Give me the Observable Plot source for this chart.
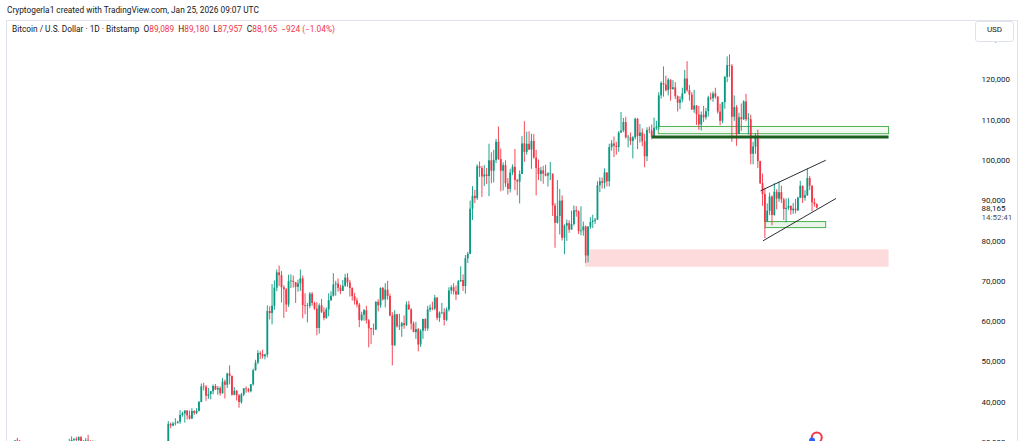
<!DOCTYPE html>
<html><head><meta charset="utf-8">
<script src="https://cdn.jsdelivr.net/npm/d3@7"></script>
<script src="https://cdn.jsdelivr.net/npm/@observablehq/plot@0.6"></script>
<style>
html,body{margin:0;padding:0;background:#fff;width:1024px;height:441px;overflow:hidden;font-family:Roboto,"Liberation Sans",sans-serif;}
#header{height:20px;line-height:21px;font-size:8.3px;color:#131722;padding-left:7px;white-space:nowrap;}
#wrap{position:relative;width:1024px;height:421px;}
#frame{position:absolute;left:6px;top:0;width:1010px;height:430px;border:1px solid #e0e3eb;border-bottom:none;pointer-events:none;}
#legend{position:absolute;left:12px;top:4px;font-size:8.3px;line-height:10px;color:#131722;white-space:nowrap;}
#legend .r{color:#f23645;}
#usd{position:absolute;left:975px;top:1px;width:37px;height:19px;border:1px solid #e0e3eb;border-radius:3px;background:#fff;font-size:8px;line-height:16px;text-align:center;color:#131722;}
svg{display:block;}
</style></head>
<body>
<div id="header">Cryptogerla1 created with TradingView.com, Jan 25, 2026 09:07 UTC</div>
<div id="wrap">
  <div id="chart"></div>
  <div id="frame"></div>
  <div id="legend"></div>
  <div id="usd">USD</div>
</div>
<script>
// ---- Data: BTC/USD, 3-day candles starting 2023-03-24 (prices in thousands USD) ----
const firstOpen = 27.5;
const closes = [
27.9,28.4,28.5,28.2,27.9,29.7,30.4,30.3,28.8,27.8,
28.3,29.3,28.1,28.8,28.4,27.6,26.8,27.0,26.9,26.9,
26.5,28.1,27.2,27.1,27.2,26.5,25.9,25.6,26.3,30.0,
30.5,30.7,30.5,31.2,29.9,30.2,30.4,30.3,29.9,29.9,
29.2,29.2,29.3,29.2,29.0,29.8,29.4,29.4,26.6,26.1,
26.4,26.0,27.7,25.9,25.8,26.2,25.8,26.2,26.5,27.2,
26.6,26.3,27.0,28.0,27.8,27.9,27.4,26.9,28.5,28.7,
30.0,34.5,34.1,34.6,34.7,35.0,36.7,37.1,37.8,36.6,
35.8,37.7,37.2,37.7,39.9,43.8,43.7,41.5,41.9,42.6,
43.9,43.0,43.4,42.1,45.0,44.2,47.0,46.4,41.7,42.7,
41.6,39.9,41.8,43.3,43.1,42.6,44.3,47.8,49.7,52.1,
51.8,51.3,51.7,62.5,62.0,63.8,68.3,72.1,71.4,68.4,
67.9,64.1,69.9,70.0,69.7,68.5,69.4,70.6,64.0,63.8,
63.8,66.8,64.5,63.1,58.3,63.9,62.3,60.8,62.9,65.2,
66.3,69.1,69.3,68.3,67.5,68.8,70.8,69.6,68.2,66.2,
65.1,64.1,60.3,61.6,62.7,60.2,58.2,58.0,57.9,64.8,
63.9,68.2,65.4,67.8,66.2,61.4,54.0,61.7,58.7,58.7,
59.5,59.0,64.1,62.9,59.4,57.3,58.0,54.2,57.6,60.5,
58.2,62.9,63.3,63.1,65.8,60.8,62.1,62.2,60.3,62.9,
67.6,68.4,67.4,66.6,69.9,70.2,68.7,75.6,76.7,87.9,
91.1,90.5,98.4,98.0,95.9,96.4,96.0,99.9,97.3,100.0,
104.5,100.2,97.3,98.7,94.2,92.8,96.9,98.3,95.0,94.6,
96.5,104.1,102.0,104.0,102.6,104.7,100.6,98.0,96.5,97.4,
96.6,96.1,96.6,96.6,88.7,84.4,86.1,89.9,80.7,83.7,
84.3,82.7,84.1,87.5,87.2,82.3,82.5,83.5,76.3,83.4,
84.6,84.9,85.2,93.7,94.7,94.3,96.9,94.7,103.2,104.1,
103.5,103.2,106.8,107.3,109.4,105.6,105.6,104.7,105.6,110.2,
105.9,106.8,104.6,100.9,107.4,107.3,105.7,108.0,108.3,116.0,
119.1,118.7,117.3,119.9,117.6,118.0,115.8,114.2,115.0,116.5,
120.2,117.3,116.2,112.5,113.5,111.3,108.8,111.2,110.6,112.1,
115.5,115.3,116.5,115.7,112.0,109.7,114.3,120.6,123.5,123.3,
110.7,113.1,106.4,110.6,110.1,114.5,110.1,110.1,101.5,103.3,
106.0,99.7,94.2,91.5,84.7,87.4,90.9,86.3,92.1,90.4,
92.0,90.2,87.8,88.1,88.6,87.5,87.9,87.5,90.6,93.6,
90.6,91.2,95.5,93.6,89.5,89.089,88.165];
const highs = [
28.4,28.6,29.2,28.5,28.8,29.8,30.5,31.0,30.5,29.0,
28.4,30.0,29.5,29.3,29.8,28.6,27.6,27.6,27.5,27.2,
27.5,28.2,28.4,27.3,27.4,27.2,26.6,26.4,26.7,30.8,
31.4,31.0,31.3,31.4,31.5,30.5,31.0,31.8,30.4,30.4,
30.3,29.7,29.5,30.0,29.4,30.2,30.1,29.7,29.4,26.8,
26.8,26.6,28.1,27.8,26.1,26.4,26.4,26.5,26.8,27.5,
27.4,26.7,27.3,28.0,28.6,28.3,28.1,27.5,30.0,28.9,
30.2,35.2,34.8,35.0,35.9,35.3,37.9,37.5,37.9,37.9,
37.8,38.4,37.9,38.4,40.2,44.5,44.7,44.1,43.4,42.7,
44.3,44.4,43.9,43.8,45.9,45.5,47.2,49.0,46.5,43.6,
42.9,41.9,42.2,43.4,43.8,43.4,44.4,48.2,50.4,52.8,
52.5,52.9,51.9,63.9,63.7,69.2,70.1,72.8,73.8,72.4,
68.9,68.2,71.5,71.6,71.3,69.3,70.3,72.8,71.3,66.9,
64.5,67.2,67.2,64.8,64.7,64.4,65.5,63.4,63.4,66.9,
67.4,71.9,70.0,70.6,69.0,70.2,71.7,71.9,70.2,68.4,
67.0,65.8,64.5,62.3,63.0,63.8,60.5,58.3,59.4,64.9,
65.4,68.4,68.5,69.4,70.0,66.8,62.2,62.7,61.8,61.8,
59.8,61.4,64.9,65.0,63.2,59.9,59.8,58.3,58.0,60.6,
60.7,63.8,64.1,64.8,66.5,66.0,62.4,64.5,63.2,63.4,
68.4,68.9,69.4,68.8,70.2,73.6,71.6,76.4,77.2,89.9,
93.5,92.6,98.9,99.6,98.5,98.7,98.0,104.0,101.9,102.5,
105.2,108.3,102.8,99.4,99.9,95.5,97.8,98.9,102.7,95.3,
97.4,105.9,109.6,107.0,107.1,106.5,106.4,102.5,100.1,98.3,
98.5,98.8,97.0,99.5,96.6,89.3,95.0,92.8,91.2,84.0,
85.2,85.0,87.4,88.7,88.5,87.5,88.5,84.7,83.7,83.6,
85.8,86.4,85.6,94.7,95.7,95.6,97.9,96.9,104.0,104.9,
105.8,104.5,107.1,111.9,110.4,110.7,106.2,106.8,105.9,110.5,
110.4,108.9,107.8,106.5,108.1,108.3,108.8,110.5,109.7,116.8,
119.5,123.2,120.9,120.3,120.0,119.8,119.3,116.0,115.8,117.9,
122.3,124.5,118.6,116.8,117.4,113.6,113.4,112.0,113.4,112.9,
115.9,116.7,117.0,117.9,115.8,113.9,114.4,120.8,125.7,126.2,
123.8,116.0,113.6,111.7,114.0,114.8,116.4,111.6,111.2,104.5,
106.6,107.5,99.8,96.6,93.1,89.2,91.9,91.2,94.2,92.7,
94.6,93.6,90.6,90.4,90.5,88.7,89.3,90.3,90.9,94.8,
93.6,92.5,97.9,96.0,93.7,90.5,89.18];
const lows = [
27.0,26.6,27.7,27.2,27.8,27.9,29.6,29.9,28.7,27.1,
27.0,27.2,27.7,27.9,28.3,27.0,25.8,26.6,26.4,26.5,
25.9,26.3,26.8,26.6,25.4,26.1,25.4,24.8,25.2,26.2,
29.8,29.9,29.8,30.2,29.9,29.7,30.0,29.9,29.6,29.6,
28.9,29.0,29.1,28.6,28.8,28.7,29.2,29.1,25.2,25.7,
25.8,25.8,25.9,25.6,25.6,25.4,25.6,24.9,26.1,26.3,
26.3,26.0,26.1,26.6,27.2,27.3,27.3,26.5,26.8,28.1,
28.6,29.9,33.4,33.9,34.1,34.6,34.5,36.3,34.8,35.6,
35.6,35.7,36.7,36.9,37.6,39.9,42.8,40.2,40.7,40.6,
41.8,42.9,41.7,41.5,42.0,40.8,43.4,44.3,41.5,41.6,
40.3,38.5,39.5,41.4,42.2,42.3,42.3,44.0,47.7,49.3,
50.6,50.7,50.5,51.0,60.4,59.2,62.8,67.4,68.7,64.6,
60.8,62.3,63.5,68.2,68.3,64.5,67.3,67.5,60.7,61.7,
59.7,63.2,63.8,62.8,56.5,56.9,62.0,60.2,60.6,61.2,
65.0,66.1,66.3,67.3,66.7,67.5,68.5,68.5,66.1,65.1,
64.1,63.4,58.5,60.0,60.1,59.4,53.5,54.3,56.5,57.8,
62.4,63.3,65.1,63.4,65.3,61.2,49.0,53.9,58.4,57.8,
56.1,58.1,58.8,62.8,57.9,57.2,55.6,52.5,53.6,55.6,
57.5,57.6,62.3,62.7,62.7,60.2,59.8,61.7,58.9,60.0,
62.4,66.7,66.6,65.2,66.5,69.7,67.5,66.8,74.4,76.6,
85.1,89.3,90.1,95.8,90.8,93.5,94.0,91.0,94.2,94.4,
99.2,100.0,92.2,92.4,93.3,91.4,91.9,96.2,92.5,91.2,
89.2,96.5,99.5,101.3,102.4,97.8,100.3,91.2,95.0,94.7,
94.1,95.9,93.4,95.0,86.1,78.2,84.2,81.5,80.0,76.6,
79.9,81.9,82.7,83.7,85.9,81.6,81.3,81.2,74.4,74.6,
82.9,83.1,84.1,85.1,92.0,92.9,92.9,93.4,93.4,102.3,
100.7,101.3,102.0,106.7,106.9,105.3,103.1,103.7,100.4,105.1,
102.7,104.3,103.4,98.2,99.7,106.6,105.1,105.6,107.4,107.5,
115.2,115.7,117.0,116.0,114.7,117.4,115.1,112.0,112.6,114.3,
116.5,116.9,114.7,112.4,111.7,108.7,107.5,107.3,109.4,110.0,
110.8,114.8,114.4,115.2,111.5,108.6,109.1,112.7,119.3,120.6,
104.5,109.7,103.5,106.4,107.2,109.9,109.6,106.3,98.9,98.9,
101.5,98.0,94.0,88.6,80.6,84.7,86.3,83.8,86.2,87.7,
89.6,89.3,85.1,84.5,87.6,86.4,86.6,86.7,87.3,90.5,
89.3,89.9,91.1,92.5,87.3,88.4,87.957];

// Annotation values
const demandZoneTop = {from: "2025-07-09", to: "2026-04-28", low: 106500, high: 108300};
const keyLevel = {from: "2025-07-01", to: "2026-04-28", price: 105800};
const pinkZone = {from: "2025-04-07", to: "2026-04-28", low: 73500, high: 77800};
const smallZone = {from: "2025-11-22", to: "2026-02-07", low: 83200, high: 84700};
const channelUpper = [{date: "2025-11-16", price: 92500}, {date: "2026-02-06", price: 100000}];
const channelLower = [{date: "2025-11-19", price: 80100}, {date: "2026-02-19", price: 90500}];
const yTicks = [30000, 40000, 50000, 60000, 70000, 80000, 90000, 100000, 110000, 120000, 130000];
const lastBar = {open: 89089, high: 89180, low: 87957, close: 88165, change: -924, pct: -1.04, countdown: "14:52:41"};

// ---- Build table ----
const DAY = 864e5;
const t0 = Date.UTC(2023, 2, 24);
const candles = closes.map((c, i) => {
  const open = (i === 0 ? firstOpen : closes[i - 1]) * 1000;
  const close = c * 1000;
  return {date: new Date(t0 + (3 * i + 1) * DAY), open, close, high: highs[i] * 1000, low: lows[i] * 1000, up: close >= open};
});
const D = s => new Date(s + "T00:00Z");
const UP = "#089981", DOWN = "#f23645";

const fmt = d3.format(",");
const minus = s => s.replace("-", "\u2212");
document.getElementById("legend").innerHTML =
  `Bitcoin / U.S. Dollar \u00b7 1D \u00b7 Bitstamp&nbsp; O<span class="r">${fmt(lastBar.open)}</span>&nbsp; H<span class="r">${fmt(lastBar.high)}</span>&nbsp; L<span class="r">${fmt(lastBar.low)}</span>&nbsp; C<span class="r">${fmt(lastBar.close)}</span>&nbsp; <span class="r">${minus(fmt(lastBar.change))} (${minus(lastBar.pct.toFixed(2))}%)</span>`;

const chart = Plot.plot({
  width: 1024, height: 421,
  marginLeft: 0, marginRight: 54, marginTop: 0, marginBottom: 0,
  style: {fontFamily: "Roboto, 'Liberation Sans', sans-serif", fontSize: "8px", color: "#131722", background: "transparent"},
  x: {type: "utc", domain: [new Date("2023-03-24T12:40Z"), new Date("2026-08-09T14:00Z")], axis: null},
  y: {domain: [30248, 134715], axis: null},
  marks: [
    Plot.rect([pinkZone], {x1: d => D(d.from), x2: d => D(d.to), y1: "low", y2: "high", fill: "#f23645", fillOpacity: 0.18}),
    Plot.rect([demandZoneTop], {x1: d => D(d.from), x2: d => D(d.to), y1: "low", y2: "high", fill: "#4caf50", fillOpacity: 0.08, stroke: "#4caf50", strokeWidth: 1}),
    Plot.rect([smallZone], {x1: d => D(d.from), x2: d => D(d.to), y1: "low", y2: "high", fill: "#4caf50", fillOpacity: 0.12, stroke: "#4caf50", strokeWidth: 1}),
    Plot.ruleX(candles, {x: "date", y1: "low", y2: "high", stroke: d => d.up ? UP : DOWN, strokeWidth: 0.9, clip: true}),
    Plot.ruleX(candles, {x: "date", y1: "open", y2: d => Math.abs(d.close - d.open) < 150 ? d.open + 150 : d.close, stroke: d => d.up ? UP : DOWN, strokeWidth: 1.8, clip: true}),
    Plot.ruleY([keyLevel], {x1: d => D(d.from), x2: d => D(d.to), y: "price", stroke: "#1b5e20", strokeWidth: 3}),
    Plot.line(channelUpper, {x: d => D(d.date), y: "price", stroke: "#2a2e39", strokeWidth: 1}),
    Plot.line(channelLower, {x: d => D(d.date), y: "price", stroke: "#2a2e39", strokeWidth: 1}),
    Plot.axisY(yTicks, {anchor: "right", tickSize: 0, tickPadding: 11, tickFormat: fmt, fontSize: 8, fill: "#131722", label: null}),
    Plot.text([lastBar], {y: "close", text: d => fmt(d.close), frameAnchor: "right", dx: 11, textAnchor: "start", fontSize: 8, fill: "#131722"}),
    Plot.text([lastBar], {y: "close", text: "countdown", frameAnchor: "right", dx: 11, dy: 9, textAnchor: "start", fontSize: 8, fill: "#50535e"}),
    Plot.dot([lastBar], {x: () => D("2026-01-26"), frameAnchor: "bottom", dy: -4, r: 5, stroke: "#f23645", strokeWidth: 2, fill: "#fff"}),
    Plot.dot([lastBar], {x: () => D("2026-01-20"), frameAnchor: "bottom", dy: -1, r: 3, fill: "#2962ff"})
  ]
});
document.getElementById("chart").appendChild(chart);
</script>
</body></html>
